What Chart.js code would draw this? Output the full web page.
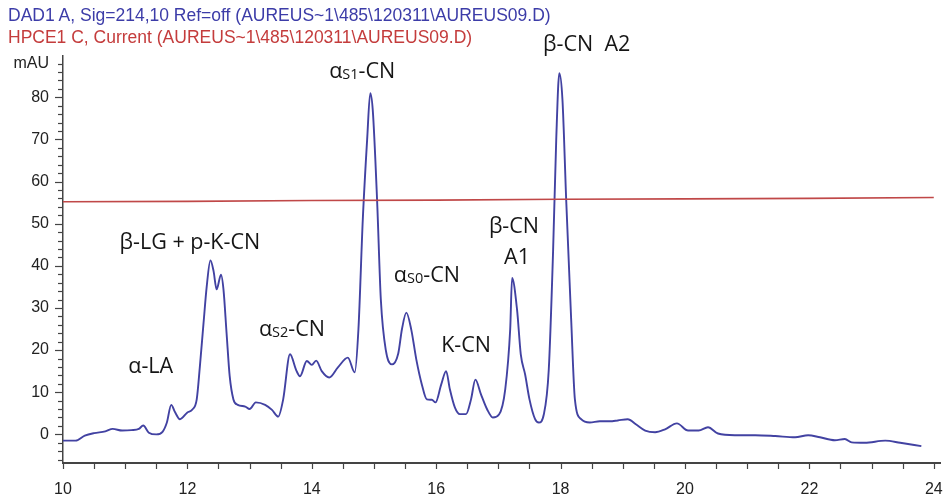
<!DOCTYPE html>
<html>
<head>
<meta charset="utf-8">
<script src="https://cdn.jsdelivr.net/npm/chart.js@4/dist/chart.umd.min.js"></script>
<style>
    body { margin: 0; background: #fff; }
    #wrap { position: relative; width: 946px; height: 497px; }
    .hdr { position: absolute; left: 8px; font-family: "Liberation Sans", Arial, sans-serif; font-size: 17.5px; white-space: nowrap; }
</style>
</head>
<body>
<div id="wrap">
    <canvas id="chart" width="946" height="497"></canvas>
    <div class="hdr" style="top:5px; color:#3c3ca8;">DAD1 A, Sig=214,10 Ref=off (AUREUS~1\485\120311\AUREUS09.D)</div>
    <div class="hdr" style="top:27px; color:#c43c3c;">HPCE1 C, Current (AUREUS~1\485\120311\AUREUS09.D)</div>
</div>
<script>
// --- DATA ---
// DAD1 A trace (migration time in min, absorbance in mAU)
const dadTimes = [
    10.00, 10.20, 10.35, 10.50, 10.68, 10.80, 10.95, 11.10, 11.22, 11.29,
    11.38, 11.50, 11.60, 11.67, 11.74, 11.80, 11.88, 12.00, 12.08, 12.15,
    12.20, 12.26, 12.31, 12.37, 12.42, 12.47, 12.54, 12.58, 12.63, 12.68,
    12.74, 12.81, 12.93, 13.00, 13.10, 13.25, 13.36, 13.46, 13.54, 13.65,
    13.75, 13.81, 13.92, 14.00, 14.07, 14.16, 14.28, 14.42, 14.58, 14.69,
    14.75, 14.82, 14.89, 14.94, 14.98, 15.05, 15.11, 15.19, 15.29, 15.39,
    15.45, 15.52, 15.60, 15.68, 15.77, 15.85, 15.93, 15.99, 16.08, 16.16,
    16.22, 16.30, 16.38, 16.48, 16.56, 16.63, 16.72, 16.82, 16.91, 17.01,
    17.11, 17.19, 17.22, 17.30, 17.36, 17.43, 17.50, 17.59, 17.65, 17.73,
    17.81, 17.88, 17.93, 17.98, 18.03, 18.09, 18.17, 18.23, 18.33, 18.47,
    18.63, 18.79, 18.92, 19.08, 19.21, 19.36, 19.52, 19.68, 19.87, 20.05,
    20.22, 20.37, 20.53, 20.80, 21.13, 21.45, 21.77, 21.98, 22.17, 22.41,
    22.57, 22.68, 22.89, 23.22, 23.46, 23.80
];
const dadValues = [
    -1.5, -1.5, -0.3, 0.3, 0.7, 1.3, 0.9, 1.0, 1.3, 2.1,
    0.4, 0.0, 0.6, 2.8, 7.0, 5.3, 3.6, 5.2, 5.9, 8.3,
    16.0, 26.5, 35.0, 41.3, 38.8, 34.4, 37.9, 34.4, 24.0, 13.8,
    8.3, 7.0, 6.6, 6.0, 7.6, 7.0, 5.8, 4.2, 8.3, 19.0,
    15.2, 13.8, 17.4, 16.5, 17.5, 15.0, 13.5, 15.9, 18.2, 14.7,
    25.0, 51.0, 70.0, 81.0, 77.0, 55.5, 32.0, 20.0, 16.6, 19.2,
    25.0, 28.9, 24.8, 17.8, 11.8, 8.3, 8.2, 7.6, 11.8, 15.0,
    10.7, 6.4, 4.8, 4.8, 8.3, 13.0, 9.5, 5.9, 4.0, 4.7,
    10.7, 25.0, 37.1, 29.6, 19.0, 14.2, 8.3, 3.6, 2.8, 4.7,
    15.4, 43.8, 70.0, 85.7, 79.4, 55.7, 27.3, 8.3, 3.6, 2.8,
    3.1, 3.1, 3.3, 3.6, 2.4, 0.9, 0.5, 1.2, 2.6, 0.9,
    0.9, 1.7, 0.2, -0.2, -0.2, -0.4, -0.7, -0.2, -0.7, -1.4,
    -1.1, -1.9, -2.0, -1.5, -2.0, -2.8
];

// HPCE1 C current trace
const hpceTimes = [10, 12, 14, 16, 18, 20, 22, 24];
const hpceValues = [55.2, 55.3, 55.5, 55.6, 55.8, 55.9, 56.0, 56.2];

// axis ticks
const xTickValues = [];
for (let v = 10; v <= 24; v += 0.5) xTickValues.push(v);
const xLabelValues = [10, 12, 14, 16, 18, 20, 22, 24];
const yTickValues = [];
for (let v = -6; v <= 88; v += 2) yTickValues.push(v);

// peak labels: text parts ([text, isSubscript]) anchored at (time, mAU)
const peakLabels = [
    { parts: [['β-CN  A2', false]], t: 18.42, v: 92.4 },
    { parts: [['α', false], ['S1', true], ['-CN', false]], t: 14.81, v: 86.0 },
    { parts: [['β-LG + p-K-CN', false]], t: 12.04, v: 45.5 },
    { parts: [['α-LA', false]], t: 11.41, v: 16.1 },
    { parts: [['α', false], ['S2', true], ['-CN', false]], t: 13.68, v: 24.9 },
    { parts: [['α', false], ['S0', true], ['-CN', false]], t: 15.85, v: 37.7 },
    { parts: [['K-CN', false]], t: 16.48, v: 20.9 },
    { parts: [['β-CN', false]], t: 17.25, v: 49.3 },
    { parts: [['A1', false]], t: 17.30, v: 41.9 }
];

const toPoints = (xs, ys) => xs.map((x, i) => ({ x: x, y: ys[i] }));

// --- PLUGINS ---
const axisFontCss = '16px "Liberation Sans", Arial, sans-serif';

const tickMarks = {
    id: 'tickMarks',
    afterDraw(chart) {
        const { ctx, scales: { x, y } } = chart;
        ctx.save();
        ctx.strokeStyle = '#444';
        ctx.lineWidth = 1.2;
        x.ticks.forEach(t => {
            const px = Math.round(x.getPixelForValue(t.value)) + 0.5;
            ctx.beginPath();
            ctx.moveTo(px, x.top);
            ctx.lineTo(px, x.top + 6);
            ctx.stroke();
        });
        y.ticks.forEach(t => {
            const py = Math.round(y.getPixelForValue(t.value)) + 0.5;
            const len = t.value % 10 === 0 ? 8 : 5;
            ctx.beginPath();
            ctx.moveTo(y.right, py);
            ctx.lineTo(y.right - len, py);
            ctx.stroke();
        });
        // x tick labels
        ctx.fillStyle = '#222';
        ctx.font = axisFontCss;
        ctx.textAlign = 'center';
        ctx.textBaseline = 'middle';
        xLabelValues.forEach(v => {
            ctx.fillText(String(v), x.getPixelForValue(v), x.top + 27);
        });
        ctx.restore();
    }
};

const peakText = {
    id: 'peakText',
    afterDatasetsDraw(chart) {
        const { ctx, scales: { x, y } } = chart;
        const mainFont = '21.5px "Open Sans", sans-serif';
        const subFont = '14.5px "Open Sans", sans-serif';
        ctx.save();
        ctx.fillStyle = '#151515';
        ctx.textBaseline = 'middle';
        ctx.textAlign = 'left';
        peakLabels.forEach(lab => {
            let w = 0;
            lab.parts.forEach(p => {
                ctx.font = p[1] ? subFont : mainFont;
                w += ctx.measureText(p[0]).width;
            });
            let px = x.getPixelForValue(lab.t) - w / 2;
            const py = y.getPixelForValue(lab.v);
            lab.parts.forEach(p => {
                ctx.font = p[1] ? subFont : mainFont;
                ctx.fillText(p[0], px, p[1] ? py + 3 : py);
                px += ctx.measureText(p[0]).width;
            });
        });
        ctx.restore();
    }
};

// --- CHART ---
new Chart(document.getElementById('chart'), {
    type: 'line',
    data: {
        datasets: [
            {
                label: 'HPCE1 C',
                data: toPoints(hpceTimes, hpceValues),
                borderColor: '#c04848',
                borderWidth: 1.6,
                pointRadius: 0,
                tension: 0
            },
            {
                label: 'DAD1 A',
                data: toPoints(dadTimes, dadValues),
                borderColor: '#4242a2',
                borderWidth: 1.9,
                pointRadius: 0,
                cubicInterpolationMode: 'monotone'
            }
        ]
    },
    options: {
        responsive: false,
        animation: false,
        layout: { padding: { top: 56, right: 6, left: 0, bottom: 0 } },
        plugins: { legend: { display: false }, tooltip: { enabled: false } },
        scales: {
            x: {
                type: 'linear',
                min: 10,
                max: 24.1,
                grid: { display: false, drawTicks: false },
                border: { display: true, color: '#444', width: 2 },
                afterBuildTicks: s => { s.ticks = xTickValues.map(v => ({ value: v })); },
                afterFit: s => { s.height = 34; },
                ticks: { display: false }
            },
            y: {
                type: 'linear',
                min: -6.8,
                max: 89.8,
                grid: { display: false, drawTicks: false },
                border: { display: true, color: '#444', width: 1.5 },
                afterBuildTicks: s => { s.ticks = yTickValues.map(v => ({ value: v })); },
                afterFit: s => { s.width = 63; },
                ticks: {
                    autoSkip: false,
                    padding: 14,
                    color: '#222',
                    font: { family: '"Liberation Sans", Arial, sans-serif', size: 16 },
                    callback: v => (v === 88 ? 'mAU' : (v % 10 === 0 ? String(v) : ''))
                }
            }
        }
    },
    plugins: [tickMarks, peakText]
});
</script>
</body>
</html>
